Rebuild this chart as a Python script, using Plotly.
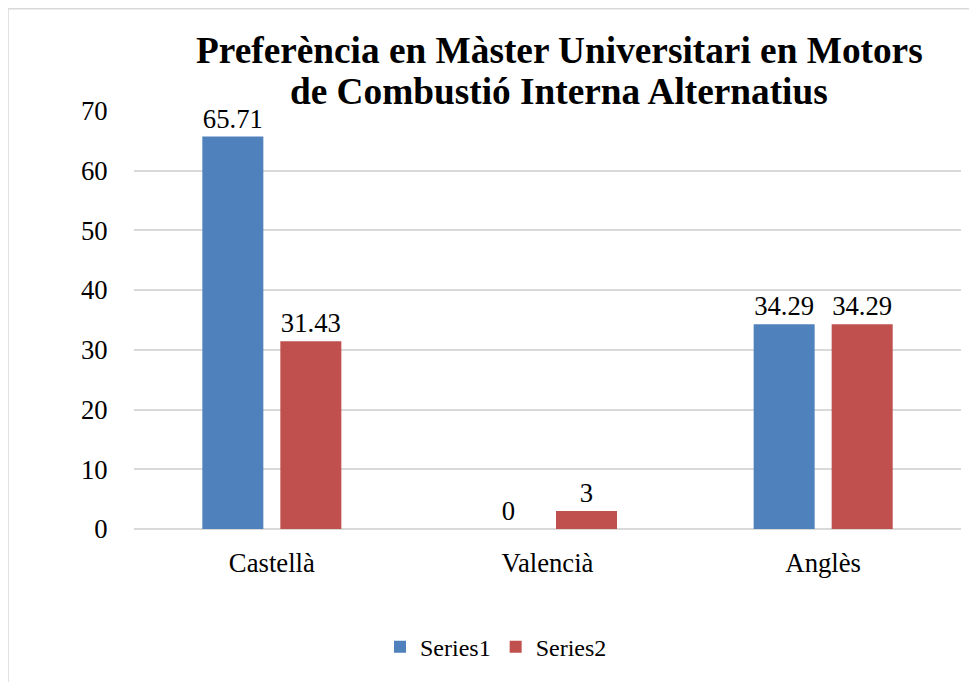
import plotly.graph_objects as go

categories = ["Castellà", "Valencià", "Anglès"]
series1 = [65.71, 0, 34.29]
series2 = [31.43, 3, 34.29]
series_names = ["Series1", "Series2"]
y_ticks = [0, 10, 20, 30, 40, 50, 60, 70]
title_lines = ["Preferència en Màster Universitari en Motors", "de Combustió Interna Alternatius"]

FONT = "Liberation Serif"
FS = 26.7

def fmt(v):
    return f"{v:g}"

fig = go.Figure()
fig.add_trace(go.Bar(x=categories, y=series1, name=series_names[0],
                     marker=dict(color="#4F81BD", line=dict(width=0)),
                     text=[fmt(v) for v in series1], textposition="outside",
                     textfont=dict(family=FONT, size=FS, color="#000000"),
                     cliponaxis=False))
fig.add_trace(go.Bar(x=categories, y=series2, name=series_names[1],
                     marker=dict(color="#C0504D", line=dict(width=0)),
                     text=[fmt(v) for v in series2], textposition="outside",
                     textfont=dict(family=FONT, size=FS, color="#000000"),
                     cliponaxis=False))

OFF = 8
W, H = 969, 674
L, R, T, B = 134 - OFF, 16, 111 - OFF, 150
pw, ph = W - L - R, H - T - B

def px_x(x):
    return (x - OFF - L) / pw

def px_y(y):
    return (T + ph - (y - OFF)) / ph

title_ann = []
for line, yc in zip(title_lines, [50, 91]):
    title_ann.append(dict(text="<b>" + line + "</b>", x=px_x(559), y=px_y(yc),
                          xref="paper", yref="paper", xanchor="center", yanchor="middle",
                          showarrow=False, font=dict(family=FONT, size=37.3, color="#000000")))

fig.update_layout(
    width=W, height=H,
    margin=dict(l=L, r=R, t=T, b=B, pad=0),
    paper_bgcolor="white", plot_bgcolor="white",
    barmode="group", bargap=0.434, bargroupgap=0.218,
    font=dict(family=FONT, size=FS, color="#000000"),
    showlegend=True,
    legend=dict(orientation="h", x=px_x(496), y=px_y(651), xanchor="center", yanchor="middle",
                font=dict(family=FONT, size=24, color="#000000"), traceorder="normal",
                itemwidth=30),
    xaxis=dict(showgrid=False, showline=False, ticks="outside", ticklen=10,
               tickcolor="rgba(0,0,0,0)", tickfont=dict(family=FONT, size=FS, color="#000000")),
    yaxis=dict(range=[0, 70], tickvals=y_ticks, showgrid=True, gridcolor="#D9D9D9", gridwidth=1.5,
               zeroline=True, zerolinecolor="#D9D9D9", zerolinewidth=1.5, showline=False,
               ticks="outside", ticklen=20, tickcolor="rgba(0,0,0,0)",
               tickfont=dict(family=FONT, size=FS, color="#000000")),
    annotations=title_ann,
    shapes=[dict(type="rect", xref="paper", yref="paper",
                 x0=px_x(8), x1=px_x(1200), y0=px_y(900), y1=px_y(8),
                 line=dict(color="#D9D9D9", width=1.5), fillcolor="rgba(0,0,0,0)", layer="below")],
)

fig.write_html("out.html")
